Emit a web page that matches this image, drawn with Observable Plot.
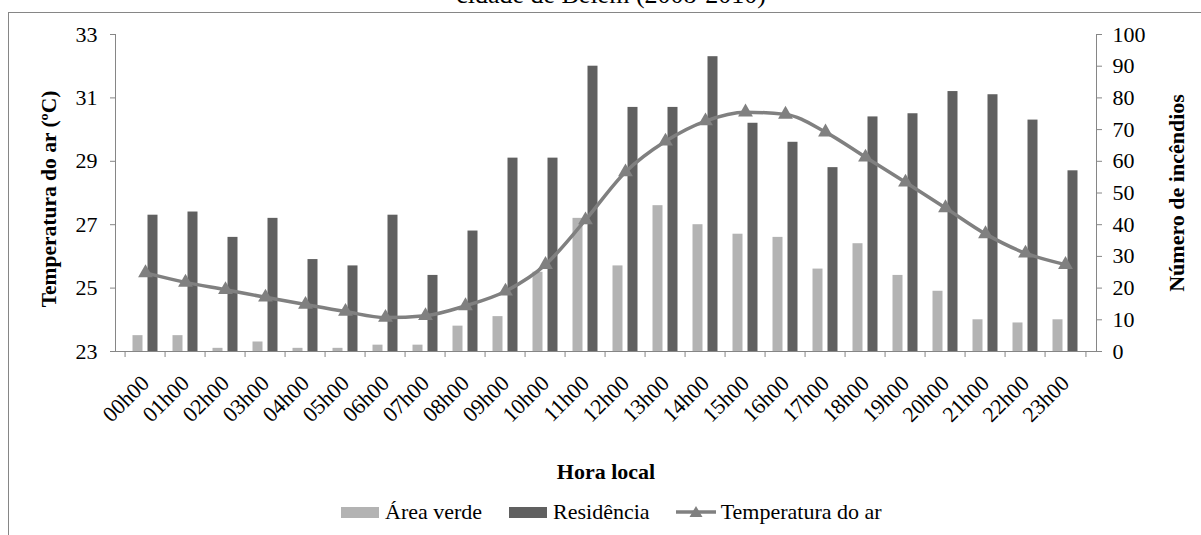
<!DOCTYPE html>
<html>
<head>
<meta charset="utf-8">
<script src="https://cdn.jsdelivr.net/npm/d3@7"></script>
<script src="https://cdn.jsdelivr.net/npm/@observablehq/plot@0.6"></script>
<style>
  html, body { margin: 0; padding: 0; background: #fff; }
  #wrap { position: relative; width: 1201px; height: 535px; overflow: hidden; background: #fff;
          font-family: "Liberation Serif", "Times New Roman", serif; color: #000; }
  #frame { position: absolute; left: 8px; top: 12px; width: 1400px; height: 800px;
           border-left: 1px solid #868686; border-top: 1px solid #868686; }
  #title { position: absolute; left: 0; top: -18px; width: 1222px; text-align: center;
           font-size: 26px; line-height: 26px; white-space: nowrap; }
  #chart { position: absolute; left: 0; top: 0; }
  #legend { position: absolute; left: 341px; top: 501px; height: 22px; display: flex; align-items: center;
            font-size: 22px; line-height: 22px; white-space: nowrap; }
  .sw { display: inline-block; width: 38px; height: 11px; margin-right: 6px; }
</style>
</head>
<body>
<div id="wrap">
  <div id="frame"></div>
  <div id="title">cidade de Belém (2008-2010)</div>
  <div id="chart"></div>
  <div id="legend">
    <span class="sw" style="background:#b3b3b3"></span><span>Área verde</span>
    <span class="sw" style="background:#606060;margin-left:27px"></span><span>Residência</span>
    <svg width="40" height="14" style="margin-left:26px;margin-right:5px">
      <line x1="0" y1="7" x2="40" y2="7" stroke="#808080" stroke-width="3.5"/>
      <path d="M20,1 L26.5,12 L13.5,12 Z" fill="#808080"/>
    </svg><span>Temperatura do ar</span>
  </div>
</div>
<script>
// ---- data ----
const hours = ["00h00","01h00","02h00","03h00","04h00","05h00","06h00","07h00","08h00","09h00","10h00","11h00",
               "12h00","13h00","14h00","15h00","16h00","17h00","18h00","19h00","20h00","21h00","22h00","23h00"];
const areaVerde  = [5, 5, 1, 3, 1, 1, 2, 2, 8, 11, 25, 42, 27, 46, 40, 37, 36, 26, 34, 24, 19, 10, 9, 10];
const residencia = [43, 44, 36, 42, 29, 27, 43, 24, 38, 61, 61, 90, 77, 77, 93, 72, 66, 58, 74, 75, 82, 81, 73, 57];
const temperatura = [25.48, 25.18, 24.95, 24.71, 24.48, 24.26, 24.07, 24.13, 24.44, 24.90, 25.74, 27.15,
                     28.66, 29.63, 30.27, 30.55, 30.48, 29.92, 29.13, 28.34, 27.53, 26.71, 26.10, 25.74];
const tempTicks = [23, 25, 27, 29, 31, 33];
const fireTicks = [0, 10, 20, 30, 40, 50, 60, 70, 80, 90, 100];
const seriesNames = ["Área verde", "Residência", "Temperatura do ar"];

// temperature axis (23..33) shares the frame with the fire-count axis (0..100)
const tMin = 23, tMax = 33, fMax = 100;
const toY = t => (t - tMin) / (tMax - tMin) * fMax;
const fromY = v => Math.round(tMin + v / fMax * (tMax - tMin));

const data = hours.map((h, i) => ({hora: h, verde: areaVerde[i], resid: residencia[i], temp: temperatura[i]}));

const W = 1201, H = 495, mL = 115, mR = 105, mT = 34, mB = 144;
const step = (W - mL - mR) / hours.length;
const gray = "#868686";

const chart = Plot.plot({
  width: W, height: H,
  marginLeft: mL, marginRight: mR, marginTop: mT, marginBottom: mB,
  style: {fontFamily: "Liberation Serif, Times New Roman, serif", fontSize: "22px", color: "#000", background: "transparent"},
  x: {type: "band", domain: hours, paddingInner: 0.738, paddingOuter: 0.369, axis: null},
  y: {domain: [0, fMax], axis: null},
  marks: [
    Plot.barY(data, {x: "hora", y: "verde", fill: "#b3b3b3", dx: -7.5}),
    Plot.barY(data, {x: "hora", y: "resid", fill: "#606060", dx: 7.5}),
    Plot.frame({anchor: "left", stroke: gray}),
    Plot.frame({anchor: "right", stroke: gray}),
    Plot.frame({anchor: "bottom", stroke: gray}),
    // x ticks on category boundaries
    Plot.axisX(hours, {tickSize: 6, tickFormat: () => "", dx: -step / 2, stroke: gray, label: null}),
    Plot.axisX([hours[hours.length - 1]], {tickSize: 6, tickFormat: () => "", dx: step / 2, stroke: gray, label: null}),
    // x tick labels
    Plot.axisX(hours, {tickSize: 0, tickRotate: -45, tickPadding: 28, fill: "#000", label: null}),
    // left (temperature) axis
    Plot.axisY(tempTicks.map(toY), {anchor: "left", tickSize: 5, tickPadding: 13, stroke: gray, fill: "#000",
                                    tickFormat: d => String(fromY(d)), label: null}),
    // right (fire count) axis
    Plot.axisY(fireTicks, {anchor: "right", tickSize: 5, tickPadding: 11, stroke: gray, fill: "#000", label: null}),
    // temperature line
    Plot.line(data, {x: "hora", y: d => toY(d.temp), stroke: "#808080", strokeWidth: 3.5, curve: "monotone-x"}),
    Plot.dot(data, {x: "hora", y: d => toY(d.temp), symbol: "triangle", r: 5.5, fill: "#808080", stroke: "none"}),
    // axis titles
    Plot.text(["Temperatura do ar (ºC)"], {frameAnchor: "left", textAnchor: "middle", dx: -66, dy: 6, rotate: -90, fontWeight: "bold", fontSize: 21.5}),
    Plot.text(["Número de incêndios"], {frameAnchor: "right", textAnchor: "middle", dx: 80, rotate: -90, fontWeight: "bold", fontSize: 22}),
    Plot.text(["Hora local"], {frameAnchor: "bottom", dy: 127, fontWeight: "bold", fontSize: 22})
  ]
});
document.getElementById("chart").appendChild(chart);
</script>
</body>
</html>
